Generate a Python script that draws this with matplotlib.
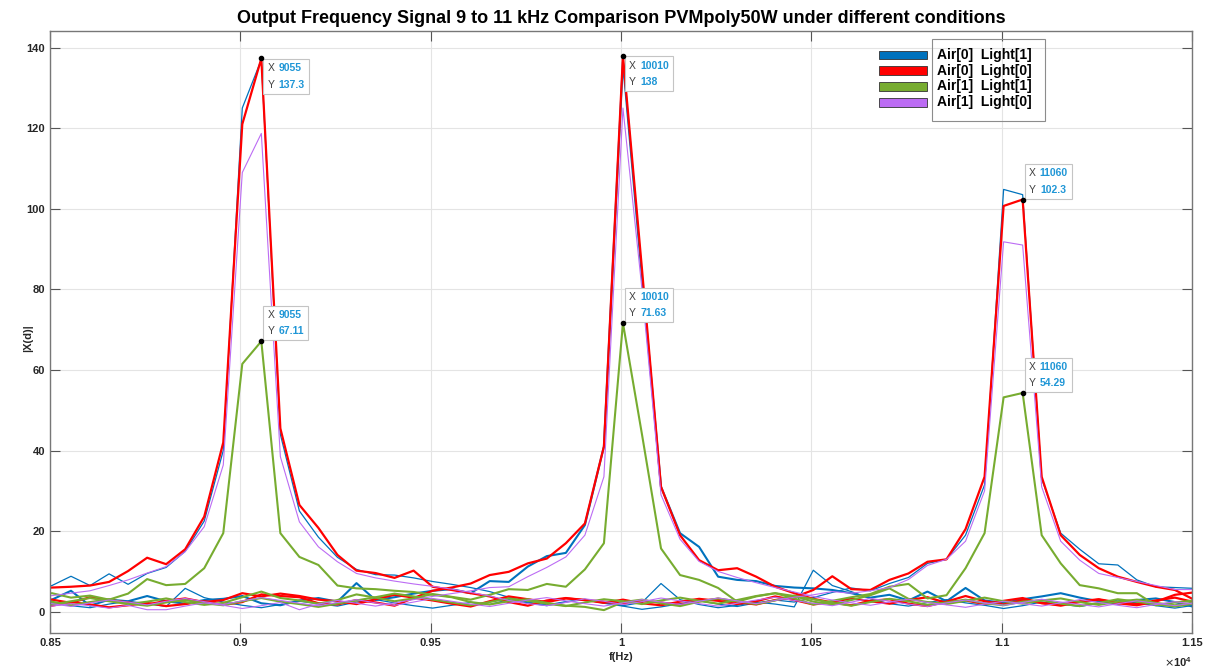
import numpy as np
import matplotlib
matplotlib.use("Agg")
import matplotlib.pyplot as plt
from matplotlib.patches import Rectangle
from matplotlib.offsetbox import TextArea, HPacker, VPacker, AnnotationBbox
from decimal import Decimal, ROUND_HALF_UP

plt.rcParams['font.family'] = ['Liberation Sans', 'DejaVu Sans']

# FFT bins (Hz)
freq = [8455, 8505, 8555, 8605, 8655, 8705, 8755, 8805, 8855, 8905,
        8955, 9005, 9055, 9105, 9155, 9205, 9255, 9305, 9355, 9405,
        9455, 9505, 9555, 9605, 9655, 9705, 9755, 9805, 9855, 9905,
        9955, 10005, 10055, 10105, 10155, 10205, 10255, 10305, 10355, 10405,
        10455, 10505, 10555, 10605, 10655, 10705, 10755, 10805, 10855, 10905,
        10955, 11005, 11055, 11105, 11155, 11205, 11255, 11305, 11355, 11405,
        11455, 11505, 11555]

# Air[0] Light[1]
blue_9k = [6.0, 6.5, 8.8, 6.5, 9.4, 6.8, 9.5, 11.0, 15.0, 22.5,
           40.0, 125.0, 137.0, 44.0, 25.0, 18.5, 13.5, 10.5, 9.2, 9.1,
           8.4, 7.5, 6.8, 6.0, 5.0, 3.6, 2.4, 1.7, 2.5, 3.1,
           2.2, 1.5, 2.3, 7.0, 3.0, 1.8, 1.0, 1.6, 2.4, 1.9,
           1.2, 10.3, 6.5, 5.0, 3.2, 2.0, 1.4, 2.3, 3.0, 2.2,
           1.6, 0.8, 1.5, 2.4, 1.9, 1.3, 2.1, 2.9, 2.2, 1.5,
           0.9, 1.6, 2.2]
blue_10k = [2.5, 3.0, 5.2, 1.5, 3.0, 2.6, 3.9, 2.6, 2.0, 2.9,
            3.2, 3.9, 2.1, 1.6, 2.8, 3.4, 2.5, 7.1, 2.9, 3.6,
            4.5, 5.2, 5.6, 4.6, 7.6, 7.4, 11.2, 13.8, 14.6, 21.5,
            41.0, 136.5, 83.0, 31.0, 19.5, 16.1, 8.7, 7.9, 7.6, 6.4,
            6.0, 5.8, 5.4, 4.6, 3.5, 4.2, 2.8, 5.0, 2.6, 5.9,
            2.8, 2.2, 3.1, 3.8, 4.6, 3.5, 2.6, 2.0, 2.9, 3.3,
            2.4, 1.2, 2.0]
blue_11k = [1.8, 2.2, 1.5, 1.0, 1.9, 2.6, 2.0, 1.3, 5.8, 3.5,
            2.4, 1.6, 1.0, 1.8, 2.6, 2.0, 1.4, 2.4, 3.0, 2.2,
            1.5, 0.9, 1.6, 2.3, 1.8, 3.0, 2.2, 1.5, 2.4, 3.0,
            2.1, 1.4, 0.6, 1.2, 2.0, 2.7, 1.9, 1.3, 2.2, 2.9,
            2.4, 3.5, 4.8, 5.9, 5.2, 7.0, 8.5, 12.0, 13.0, 19.0,
            31.5, 104.8, 103.5, 33.0, 19.5, 15.5, 11.9, 11.6, 7.9, 6.2,
            6.0, 5.8, 5.6]

# Air[0] Light[0]
red_9k = [5.8, 6.0, 6.2, 6.5, 7.4, 10.1, 13.4, 11.8, 15.5, 23.6,
          42.0, 121.0, 137.3, 45.5, 26.5, 20.8, 14.1, 10.2, 9.6, 8.4,
          10.2, 6.2, 5.4, 4.6, 3.8, 2.4, 1.5, 2.8, 3.4, 2.9,
          2.2, 3.0, 2.1, 1.6, 2.5, 3.2, 2.7, 1.9, 2.6, 3.8,
          2.9, 1.8, 2.4, 3.3, 2.6, 2.0, 2.9, 3.6, 2.2, 2.8,
          1.9, 2.7, 3.4, 2.1, 1.7, 2.6, 3.1, 2.3, 1.9, 2.8,
          3.5, 2.4, 2.0]
red_10k = [1.2, 1.5, 2.4, 1.8, 1.1, 1.6, 2.2, 1.4, 1.9, 2.6,
           1.7, 2.4, 4.3, 3.9, 3.6, 2.1, 1.8, 2.9, 2.3, 1.5,
           3.4, 5.2, 6.0, 7.0, 9.1, 9.9, 12.0, 13.2, 17.0, 21.9,
           41.0, 138.0, 85.0, 31.0, 19.0, 12.8, 10.3, 10.8, 8.7, 6.2,
           4.6, 3.2, 2.3, 1.6, 2.7, 3.1, 2.0, 1.4, 2.5, 3.9,
           2.6, 1.8, 2.9, 2.2, 1.5, 2.4, 3.0, 2.1, 1.6, 2.5,
           4.2, 4.8, 3.5]
red_11k = [2.8, 3.0, 2.2, 3.6, 2.9, 2.3, 1.8, 2.7, 3.3, 2.4,
           2.9, 4.6, 3.8, 4.5, 3.9, 3.0, 2.6, 1.9, 3.1, 4.2,
           3.5, 2.8, 2.0, 1.3, 2.6, 3.8, 3.1, 2.4, 3.3, 2.9,
           2.5, 2.0, 2.8, 2.3, 1.7, 2.6, 3.2, 2.4, 1.8, 2.9,
           3.6, 5.4, 8.8, 5.6, 5.4, 7.9, 9.5, 12.4, 13.0, 20.5,
           33.5, 100.7, 102.3, 33.5, 19.0, 14.1, 10.8, 8.7, 7.4, 6.2,
           5.4, 3.0, 2.5]

# Air[1] Light[1]
green_9k = [4.0, 4.6, 3.5, 4.0, 3.0, 4.5, 8.1, 6.6, 6.9, 10.8,
            19.5, 61.5, 67.11, 19.5, 13.6, 11.6, 6.5, 5.8, 5.6, 5.2,
            4.9, 4.2, 3.6, 2.4, 1.8, 2.6, 3.1, 2.2, 1.5, 1.2,
            0.4, 2.4, 3.0, 2.1, 1.4, 2.5, 3.3, 2.6, 1.9, 2.8,
            4.0, 3.1, 2.2, 1.5, 2.4, 3.2, 2.6, 1.7, 2.3, 3.0,
            2.1, 1.6, 2.5, 2.9, 2.0, 1.4, 2.2, 3.1, 2.5, 1.8,
            1.3, 2.0, 2.6]
green_10k = [1.5, 1.8, 2.6, 3.4, 2.6, 1.9, 2.5, 3.3, 2.4, 1.7,
             2.2, 3.6, 5.0, 3.4, 2.8, 2.0, 2.9, 4.3, 3.5, 2.6,
             3.3, 4.4, 3.7, 3.0, 4.2, 5.6, 5.4, 6.9, 6.2, 10.5,
             17.0, 71.63, 44.0, 15.7, 9.1, 7.9, 5.9, 2.5, 3.8, 4.6,
             3.9, 2.5, 1.8, 2.9, 4.1, 5.8, 3.2, 2.4, 1.9, 2.7,
             3.5, 2.6, 2.0, 2.8, 3.3, 2.4, 1.7, 2.5, 3.0, 2.2,
             1.6, 2.3, 2.9]
green_11k = [2.2, 2.5, 1.6, 2.4, 3.1, 2.0, 1.5, 2.3, 2.9, 2.1,
             1.6, 2.6, 3.4, 2.5, 1.9, 1.2, 2.0, 2.8, 3.6, 4.5,
             3.8, 3.0, 2.3, 1.6, 2.4, 3.3, 2.7, 2.0, 1.4, 2.3,
             3.1, 2.6, 1.9, 2.8, 3.5, 2.7, 2.0, 2.9, 3.9, 4.6,
             3.3, 1.8, 2.7, 3.6, 4.4, 6.2, 6.9, 3.3, 4.1, 10.8,
             19.5, 53.2, 54.29, 19.0, 12.0, 6.6, 5.8, 4.6, 4.6, 1.6,
             2.3, 2.8, 2.0]

# Air[1] Light[0]
purple_9k = [3.5, 4.0, 4.6, 5.2, 6.5, 7.9, 9.6, 11.2, 14.9, 21.1,
             36.4, 109.0, 118.7, 38.5, 22.3, 16.1, 12.4, 9.5, 8.4, 7.6,
             6.9, 6.3, 5.6, 4.8, 3.9, 2.8, 2.0, 1.5, 2.3, 3.2,
             2.6, 1.8, 2.5, 3.4, 2.7, 2.0, 1.4, 2.1, 2.9, 3.6,
             2.8, 2.1, 1.5, 2.4, 3.3, 2.6, 1.9, 1.3, 2.2, 2.9,
             2.2, 1.6, 2.3, 3.1, 2.4, 1.8, 1.2, 2.0, 2.7, 2.1,
             1.5, 2.2, 3.0]
purple_10k = [1.0, 1.4, 2.0, 1.5, 0.9, 1.6, 0.5, 0.5, 1.4, 2.2,
              1.6, 0.8, 1.5, 2.3, 0.5, 1.9, 2.8, 2.1, 1.4, 2.2,
              3.0, 3.8, 4.5, 5.2, 6.0, 6.2, 8.7, 11.0, 13.6, 19.0,
              33.5, 125.0, 80.0, 29.0, 18.0, 12.5, 10.0, 8.5, 7.2, 6.0,
              4.9, 3.8, 2.9, 2.2, 1.6, 2.4, 3.1, 2.3, 1.7, 1.1,
              1.9, 2.6, 2.0, 1.4, 2.2, 3.0, 2.3, 1.6, 1.0, 1.8,
              2.5, 1.9, 1.3]
purple_11k = [2.5, 2.0, 1.3, 2.2, 2.9, 2.4, 1.7, 2.6, 3.3, 2.5,
              1.8, 2.7, 3.5, 2.8, 2.1, 1.5, 2.3, 3.0, 2.2, 1.6,
              2.4, 3.3, 2.6, 1.9, 1.3, 2.1, 2.9, 3.5, 2.7, 2.0,
              1.4, 2.2, 3.0, 2.4, 1.8, 2.6, 3.4, 2.7, 2.0, 2.8,
              3.6, 4.2, 5.0, 4.6, 5.2, 6.0, 8.0, 11.5, 13.0, 17.5,
              30.0, 91.8, 91.0, 31.0, 17.5, 12.8, 9.5, 8.5, 7.5, 6.5,
              5.5, 5.5, 5.4]

legend_labels = ['Air[0]  Light[1]', 'Air[0]  Light[0]',
                 'Air[1]  Light[1]', 'Air[1]  Light[0]']

C_BLUE = '#0072BD'
C_RED = '#FF0000'
C_GREEN = '#77AC30'
C_PURPLE = '#BC6CF4'


def sig4(v):
    # MATLAB datatip style: 4 significant digits, half rounded up
    d = Decimal(str(v))
    q = d.quantize(Decimal(1).scaleb(d.adjusted() - 3), rounding=ROUND_HALF_UP)
    return f"{float(q):g}"


def datatip(ax, x, y, above):
    def line(name, val):
        return HPacker(children=[
            TextArea(name, textprops=dict(color='#404040', size=7.5)),
            TextArea(val, textprops=dict(color='#1F96D6', size=7.5, weight='bold'))],
            pad=0, sep=3, align='baseline')
    box = VPacker(children=[line('X', sig4(x)), line('Y', sig4(y))],
                  pad=0, sep=4.5, align='left')
    ab = AnnotationBbox(box, (x, y), xycoords='data',
                        xybox=(4.4, 3.6 if above else -3.6),
                        boxcoords='offset points',
                        box_alignment=(0, 0 if above else 1), pad=0.5,
                        bboxprops=dict(boxstyle='square', fc='white',
                                       ec='#c4c4c4', lw=0.8),
                        zorder=8)
    ax.add_artist(ab)
    ax.plot([x], [y], 'o', ms=3, color='k', zorder=9)


fig = plt.figure(figsize=(12.15, 6.71), dpi=100)
ax = fig.add_axes([0.0412, 0.0571, 0.9399, 0.8960])

series = [(blue_9k, C_BLUE, 0.9), (blue_10k, C_BLUE, 1.5), (blue_11k, C_BLUE, 0.9),
          (red_9k, C_RED, 1.6), (red_10k, C_RED, 1.6), (red_11k, C_RED, 1.6),
          (green_9k, C_GREEN, 1.5), (green_10k, C_GREEN, 1.5), (green_11k, C_GREEN, 1.5),
          (purple_9k, C_PURPLE, 0.8), (purple_10k, C_PURPLE, 0.8), (purple_11k, C_PURPLE, 0.8)]
for vals, col, lw in series:
    ax.plot(freq, vals, color=col, lw=lw)

# data tips on the red and green peaks
for vals, above in [(red_9k, False), (green_9k, True), (red_10k, False),
                    (green_10k, True), (red_11k, True), (green_11k, True)]:
    k = int(np.argmax(vals))
    datatip(ax, freq[k], vals[k], above)

ax.set_xlim(8500, 11500)
ax.set_ylim(-5.2, 144)
xt = list(range(8500, 11501, 500))
ax.set_xticks(xt)
ax.set_xticklabels([f"{t / 1e4:g}" for t in xt])
ax.set_yticks(range(0, 141, 20))
ax.grid(True, color='#e4e4e4', lw=0.8)
ax.set_axisbelow(True)
ax.tick_params(direction='in', length=7, width=0.8, top=True, right=True,
               labelsize=8, color='#555555', labelcolor='#262626')
ax.tick_params(axis='x', pad=4)
ax.tick_params(axis='y', pad=3.5)
for lbl in ax.get_xticklabels() + ax.get_yticklabels():
    lbl.set_fontweight('bold')
for sp in ax.spines.values():
    sp.set_color('#777777')
    sp.set_linewidth(1.0)

ax.set_title('Output Frequency Signal 9 to 11 kHz Comparison PVMpoly50W under different conditions',
             fontsize=13, fontweight='bold', pad=6)
ax.set_xlabel('f(Hz)', fontsize=8, fontweight='bold', color='#262626', labelpad=3)
ax.set_ylabel('|X(d)|', fontsize=8, fontweight='bold', color='#262626')
ax.yaxis.set_label_coords(-0.015, 0.49)
ax.text(1.0, -0.038, r'$\times\mathregular{10^{4}}$', transform=ax.transAxes,
        ha='right', va='top', fontsize=8, fontweight='bold', color='#262626')

# legend: patches sit left of the frame as in the original
leg_colors = [C_BLUE, C_RED, C_GREEN, C_PURPLE]
for k, (lab, col) in enumerate(zip(legend_labels, leg_colors)):
    yk = 0.9609 - k * 0.0262
    ax.add_patch(Rectangle((0.7259, yk - 0.0072), 0.0421, 0.0144,
                           transform=ax.transAxes, fc=col, ec='#333333',
                           lw=0.6, clip_on=False, zorder=10))
    ax.text(0.7770, yk, lab, transform=ax.transAxes, va='center', ha='left',
            fontsize=10, fontweight='bold', zorder=10)
ax.add_patch(Rectangle((0.7721, 0.8516), 0.0992, 0.1359, transform=ax.transAxes,
                       fill=False, ec='#8c8c8c', lw=0.8, zorder=10))

fig.savefig('out.png', dpi=100)
